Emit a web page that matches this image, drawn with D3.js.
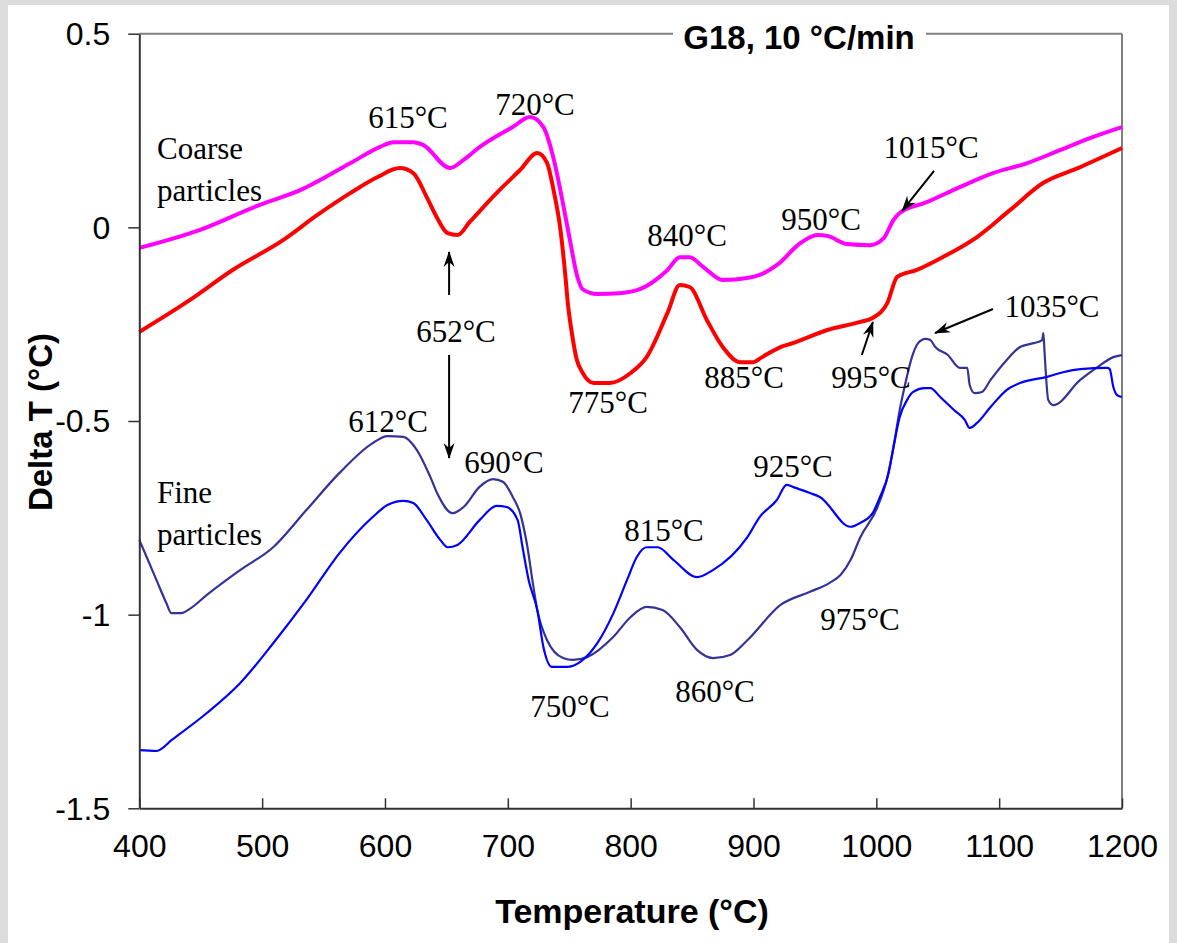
<!DOCTYPE html>
<html>
<head>
<meta charset="utf-8">
<script src="https://cdn.jsdelivr.net/npm/d3@7"></script>
<style>
  html, body { margin: 0; padding: 0; background: #dcdcdc; }
  svg { display: block; }
</style>
</head>
<body>
<svg id="chart" width="1177" height="943"></svg>
<script>
// DTA traces, G18 heated at 10 °C/min: temperature (°C) and Delta T (°C)
const coarseMagentaT = [400, 449, 498, 531, 572, 596, 607, 623, 631, 653, 664, 677, 704, 718, 729, 737, 745, 751, 756, 761, 773, 791, 808, 830, 840, 848, 859, 875, 895, 905, 920, 938, 952, 960, 976, 995, 1006, 1014, 1019, 1041, 1068, 1095, 1123, 1150, 1176, 1200];
const coarseMagentaV = [-0.053, -0.007, 0.058, 0.096, 0.166, 0.208, 0.220, 0.220, 0.213, 0.153, 0.174, 0.207, 0.259, 0.285, 0.259, 0.181, 0.060, -0.040, -0.120, -0.160, -0.172, -0.170, -0.159, -0.110, -0.077, -0.077, -0.102, -0.136, -0.131, -0.123, -0.095, -0.041, -0.020, -0.022, -0.043, -0.046, -0.028, 0.019, 0.037, 0.065, 0.104, 0.140, 0.166, 0.200, 0.233, 0.259];

const coarseRedT = [400, 441, 476, 517, 545, 572, 594, 612, 623, 634, 642, 651, 659, 669, 691, 710, 724, 732, 737, 743, 747, 749, 752, 756, 761, 770, 783, 800, 813, 830, 840, 848, 862, 875, 889, 900, 906, 922, 932, 960, 987, 997, 1009, 1017, 1033, 1054, 1082, 1109, 1136, 1164, 1200];
const coarseRedV = [-0.270, -0.188, -0.110, -0.033, 0.032, 0.089, 0.130, 0.153, 0.140, 0.078, 0.027, -0.015, -0.020, 0.014, 0.089, 0.148, 0.192, 0.166, 0.100, -0.010, -0.130, -0.200, -0.270, -0.340, -0.376, -0.402, -0.402, -0.376, -0.335, -0.221, -0.149, -0.154, -0.239, -0.309, -0.348, -0.348, -0.337, -0.309, -0.299, -0.265, -0.244, -0.234, -0.195, -0.128, -0.110, -0.077, -0.025, 0.045, 0.115, 0.153, 0.205];

const fineDarkT = [400, 406, 414, 422, 426, 434, 442, 455, 482, 509, 536, 563, 590, 602, 615, 626, 637, 643, 655, 664, 677, 688, 696, 704, 710, 716, 720, 724, 732, 745, 753, 765, 786, 800, 813, 826, 840, 854, 867, 881, 895, 922, 946, 962, 971, 979, 987, 1001, 1009, 1014, 1019, 1023, 1029, 1034, 1040, 1044, 1048, 1058, 1068, 1074, 1076, 1080, 1086, 1093, 1106, 1117, 1128, 1135, 1136, 1137, 1140, 1144, 1166, 1180, 1193, 1200];
const fineDarkV = [-0.807, -0.851, -0.911, -0.970, -0.996, -0.996, -0.983, -0.949, -0.885, -0.826, -0.730, -0.634, -0.557, -0.539, -0.541, -0.575, -0.645, -0.690, -0.738, -0.722, -0.670, -0.650, -0.657, -0.696, -0.738, -0.826, -0.911, -0.988, -1.066, -1.112, -1.117, -1.109, -1.057, -1.006, -0.980, -0.988, -1.032, -1.091, -1.112, -1.104, -1.066, -0.975, -0.941, -0.918, -0.897, -0.859, -0.800, -0.722, -0.645, -0.567, -0.472, -0.412, -0.335, -0.299, -0.288, -0.291, -0.309, -0.329, -0.363, -0.363, -0.407, -0.428, -0.425, -0.394, -0.343, -0.309, -0.299, -0.291, -0.273, -0.325, -0.446, -0.459, -0.394, -0.361, -0.335, -0.330];

const fineBlueT = [400, 414, 427, 455, 482, 509, 536, 563, 590, 602, 615, 623, 634, 645, 651, 659, 677, 691, 699, 708, 712, 717, 724, 729, 736, 748, 759, 773, 786, 797, 805, 813, 822, 835, 854, 867, 895, 905, 919, 927, 932, 946, 954, 979, 987, 997, 1003, 1010, 1014, 1019, 1025, 1030, 1039, 1044, 1052, 1063, 1072, 1076, 1082, 1093, 1106, 1117, 1139, 1152, 1166, 1188, 1190, 1193, 1196, 1200];
const fineBlueV = [-1.350, -1.352, -1.322, -1.254, -1.177, -1.074, -0.962, -0.841, -0.748, -0.717, -0.706, -0.712, -0.756, -0.807, -0.826, -0.820, -0.756, -0.719, -0.722, -0.756, -0.826, -0.911, -0.988, -1.084, -1.135, -1.135, -1.122, -1.073, -0.996, -0.911, -0.851, -0.826, -0.826, -0.859, -0.903, -0.885, -0.800, -0.748, -0.704, -0.665, -0.670, -0.686, -0.696, -0.773, -0.763, -0.738, -0.696, -0.634, -0.567, -0.490, -0.446, -0.425, -0.415, -0.415, -0.438, -0.471, -0.497, -0.518, -0.505, -0.464, -0.420, -0.402, -0.386, -0.374, -0.366, -0.363, -0.366, -0.413, -0.433, -0.438];

const xTicks = [400, 500, 600, 700, 800, 900, 1000, 1100, 1200];
const yTicks = [0.5, 0, -0.5, -1, -1.5];

// Peak labels, placed in data coordinates (temperature, Delta T)
const peakLabels = [
  { text: "615°C", t: 618.7, v: 0.2565 },
  { text: "720°C", t: 722.1, v: 0.2901 },
  { text: "840°C", t: 845.9, v: -0.0482 },
  { text: "950°C", t: 955.0, v: -0.0069 },
  { text: "1015°C", t: 1044.6, v: 0.1791 },
  { text: "652°C", t: 657.8, v: -0.296 },
  { text: "775°C", t: 781.6, v: -0.4794 },
  { text: "885°C", t: 892.3, v: -0.4148 },
  { text: "995°C", t: 995.6, v: -0.4148 },
  { text: "1035°C", t: 1143.0, v: -0.2315 },
  { text: "612°C", t: 602.5, v: -0.5286 },
  { text: "690°C", t: 696.9, v: -0.6345 },
  { text: "815°C", t: 827.1, v: -0.8100 },
  { text: "925°C", t: 932.1, v: -0.6448 },
  { text: "750°C", t: 750.6, v: -1.2643 },
  { text: "860°C", t: 868.6, v: -1.2256 },
  { text: "975°C", t: 986.7, v: -1.0397 }
];

// Arrows pointing at features: [t0, v0] -> [t1, v1]
const pointerArrows = [
  [1047.0, 0.1455, 1021.0, 0.0423],
  [652.2, -0.1746, 652.2, -0.0636],
  [652.2, -0.3295, 652.2, -0.5955],
  [988.2, -0.3295, 997.2, -0.2443],
  [1095.0, -0.2108, 1047.8, -0.2728]
];

const groupLabels = [
  { lines: ["Coarse", "particles"], t: 414.4, v: 0.1765 },
  { lines: ["Fine", "particles"], t: 414.4, v: -0.7117 }
];

const svg = d3.select("#chart");

// white panel
svg.append("rect").attr("x", 8).attr("y", 5).attr("width", 1161).attr("height", 938).attr("fill", "#ffffff");

const x = d3.scaleLinear().domain([400, 1200]).range([139.3, 1122]);
const y = d3.scaleLinear().domain([-1.5, 0.5]).range([808.3, 33.7]);

const sans = "'Liberation Sans', Arial, sans-serif";
const serif = "'Liberation Serif', 'Times New Roman', serif";

// top and right frame edges
svg.append("line").attr("x1", x(400)).attr("x2", x(1200)).attr("y1", y(0.5)).attr("y2", y(0.5))
  .attr("stroke", "#7f7f7f").attr("stroke-width", 2);
svg.append("line").attr("x1", x(1200)).attr("x2", x(1200)).attr("y1", y(0.5)).attr("y2", y(-1.5))
  .attr("stroke", "#7f7f7f").attr("stroke-width", 2);

// curves
const line = d3.line().x(d => x(d[0])).y(d => y(d[1])).curve(d3.curveMonotoneX);
const series = [
  { t: fineDarkT, v: fineDarkV, color: "#333399", w: 2.2 },
  { t: fineBlueT, v: fineBlueV, color: "#0000ff", w: 2.2 },
  { t: coarseMagentaT, v: coarseMagentaV, color: "#ff00ff", w: 4 },
  { t: coarseRedT, v: coarseRedV, color: "#ff0000", w: 4 }
];
svg.append("g").selectAll("path").data(series).join("path")
  .attr("d", s => line(s.t.map((t, i) => [t, s.v[i]])))
  .attr("fill", "none")
  .attr("stroke", s => s.color)
  .attr("stroke-width", s => s.w)
  .attr("stroke-linejoin", "round");

// axes
const yAxis = svg.append("g").attr("transform", `translate(${x(400)},0)`)
  .call(d3.axisLeft(y).tickValues(yTicks).tickSizeInner(11).tickSizeOuter(0).tickPadding(18)
    .tickFormat(d => d3.format("")(d).replace("−", "-")));
const xAxis = svg.append("g").attr("transform", `translate(0,${y(-1.5)})`)
  .call(d3.axisBottom(x).tickValues(xTicks).tickSizeInner(-10).tickSizeOuter(0).tickPadding(26)
    .tickFormat(d3.format("d")));
[yAxis, xAxis].forEach(g => {
  g.select(".domain").attr("stroke", "#333333").attr("stroke-width", 2);
  g.selectAll(".tick line").attr("stroke", "#333333").attr("stroke-width", 1.5);
  g.selectAll(".tick text").attr("fill", "#000").style("font-family", sans).style("font-size", "32px");
});
yAxis.selectAll(".tick text").attr("dy", "0.34em");
xAxis.selectAll(".tick text").attr("dy", "0.71em");

// axis titles
svg.append("text").attr("x", 632).attr("y", 923).attr("text-anchor", "middle")
  .style("font-family", sans).style("font-size", "34px").style("font-weight", "bold")
  .text("Temperature (°C)");
svg.append("text").attr("transform", "translate(52,422) rotate(-90)").attr("text-anchor", "middle")
  .style("font-family", sans).style("font-size", "33px").style("font-weight", "bold")
  .text("Delta T (°C)");

// chart title sitting on the top frame edge
svg.append("rect").attr("x", 673).attr("y", 20).attr("width", 253).attr("height", 30).attr("fill", "#fff");
svg.append("text").attr("x", 799).attr("y", 49).attr("text-anchor", "middle")
  .style("font-family", sans).style("font-size", "33px").style("font-weight", "bold")
  .text("G18, 10 °C/min");

// group labels
svg.append("g").selectAll("text").data(groupLabels).join("text")
  .attr("x", d => x(d.t)).attr("y", d => y(d.v))
  .style("font-family", serif).style("font-size", "31px")
  .each(function (d) {
    d3.select(this).selectAll("tspan").data(d.lines).join("tspan")
      .attr("x", x(d.t)).attr("dy", (l, i) => i === 0 ? 0 : 42).text(l => l);
  });

// peak labels
svg.append("g").selectAll("text").data(peakLabels).join("text")
  .attr("x", d => x(d.t)).attr("y", d => y(d.v)).attr("text-anchor", "middle")
  .style("font-family", serif).style("font-size", "31px")
  .text(d => d.text);

// arrows
const defs = svg.append("defs");
defs.append("marker").attr("id", "head").attr("viewBox", "-16 -6 18 12")
  .attr("refX", 0).attr("refY", 0).attr("markerWidth", 18).attr("markerHeight", 12)
  .attr("markerUnits", "userSpaceOnUse").attr("orient", "auto")
  .append("path").attr("d", "M1,0 L-15,-5.5 L-10,0 L-15,5.5 Z").attr("fill", "#000");
svg.append("g").selectAll("line").data(pointerArrows).join("line")
  .attr("x1", d => x(d[0])).attr("y1", d => y(d[1]))
  .attr("x2", d => x(d[2])).attr("y2", d => y(d[3]))
  .attr("stroke", "#000").attr("stroke-width", 2)
  .attr("marker-end", "url(#head)");
</script>
</body>
</html>
